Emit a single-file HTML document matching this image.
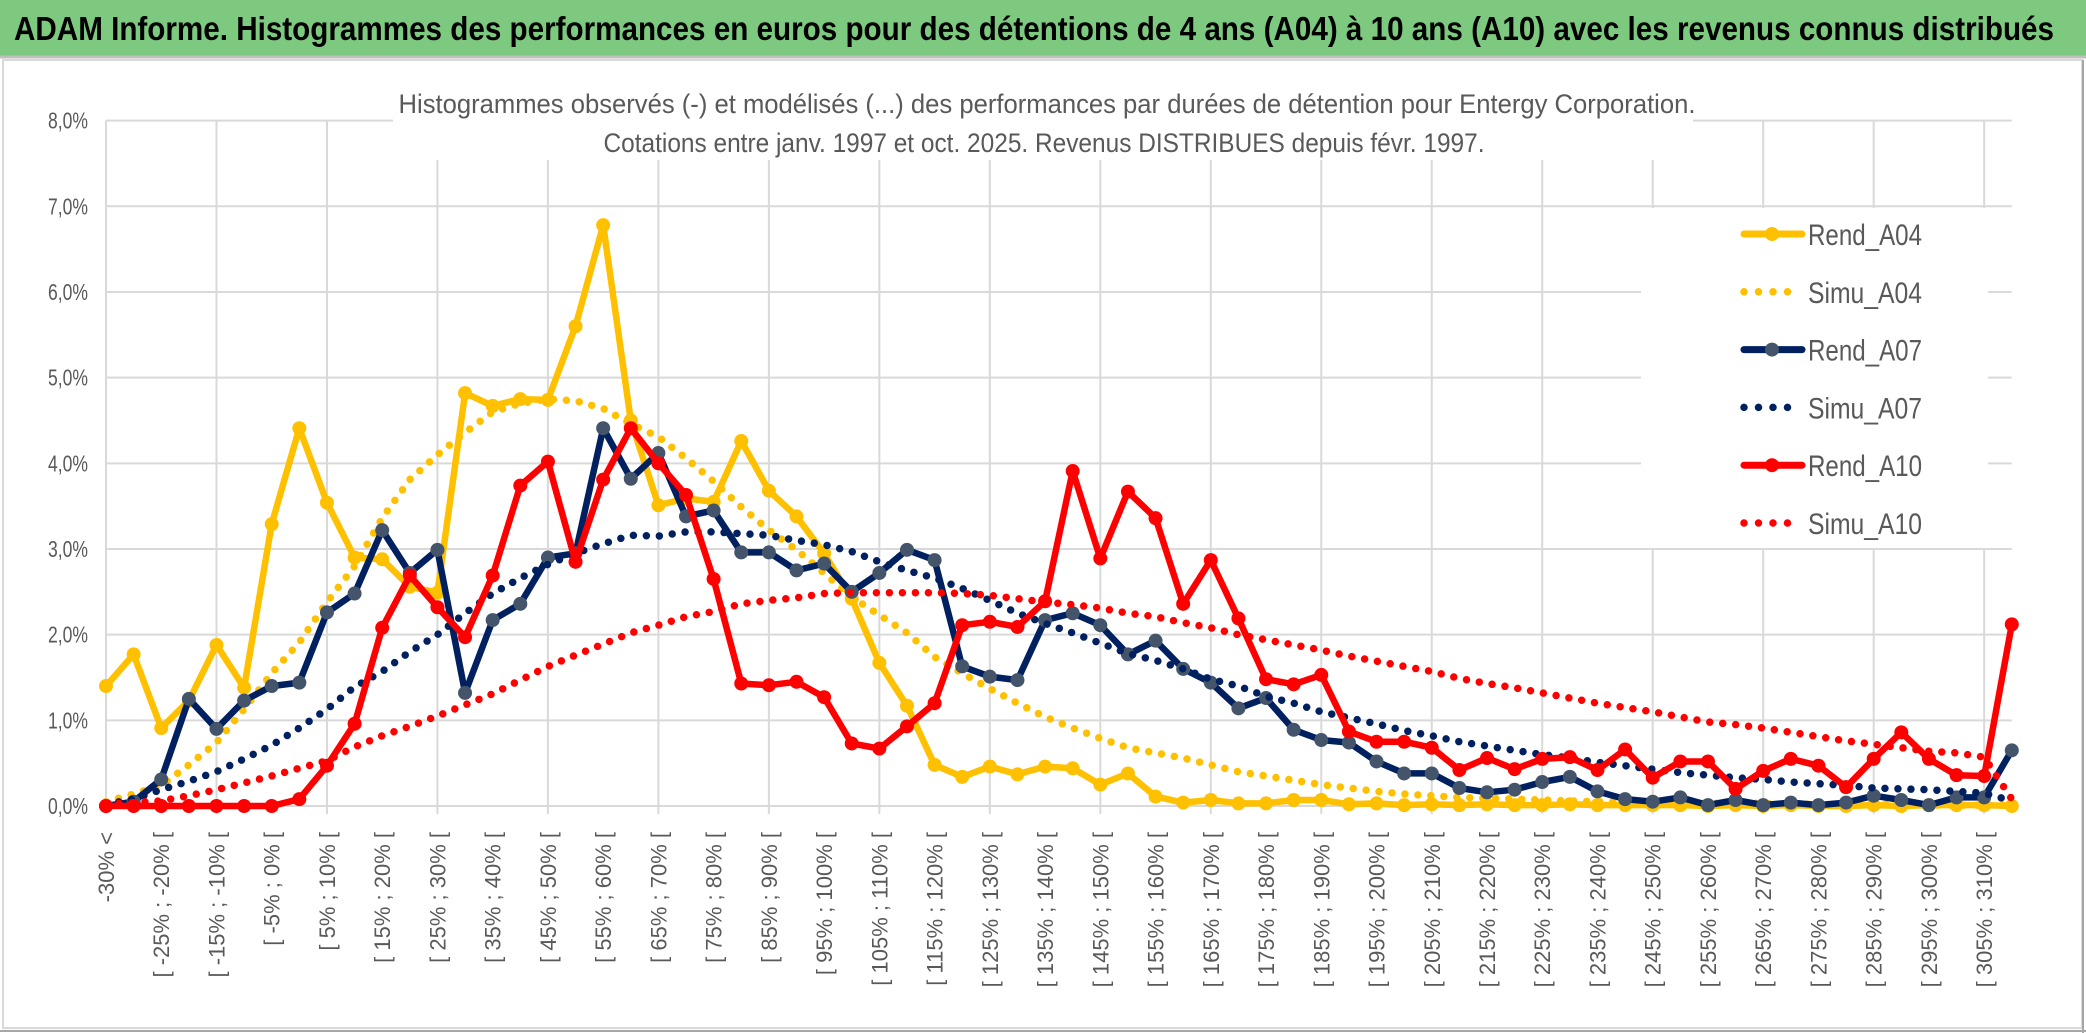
<!DOCTYPE html>
<html><head><meta charset="utf-8"><style>
html,body{margin:0;padding:0;background:#fff;}
svg{display:block;font-family:"Liberation Sans",sans-serif;}
</style></head><body>
<svg id="chart" width="2086" height="1033" viewBox="0 0 2086 1033" xmlns="http://www.w3.org/2000/svg">
<rect x="0" y="0" width="2086" height="1033" fill="#fff"/>
<rect x="0" y="0" width="2086" height="56" fill="#7dc97f"/>
<line x1="0" y1="57" x2="2086" y2="57" stroke="#bfbfbf" stroke-width="3"/>
<text x="14" y="40" font-size="33" font-weight="bold" fill="#000" textLength="2040" lengthAdjust="spacingAndGlyphs">ADAM Informe. Histogrammes des performances en euros pour des détentions de 4 ans (A04) à 10 ans (A10) avec les revenus connus distribués</text>
<rect x="3" y="60" width="2079" height="968" fill="none" stroke="#d9d9d9" stroke-width="2"/>
<line x1="0" y1="1031" x2="2086" y2="1031" stroke="#a6a6a6" stroke-width="2"/>
<line x1="2083" y1="60" x2="2083" y2="1033" stroke="#a6a6a6" stroke-width="2"/>
<g id="grid"></g>
<g id="yticks"></g>
<g id="xlabels"></g>
<rect x="393" y="110" width="1300" height="50" fill="#fff"/>
<text x="1047" y="113" font-size="27" fill="#595959" text-anchor="middle" textLength="1297" lengthAdjust="spacingAndGlyphs">Histogrammes observés (-) et modélisés (...) des performances par durées de détention pour Entergy Corporation.</text>
<text x="1044" y="152" font-size="27" fill="#595959" text-anchor="middle" textLength="881" lengthAdjust="spacingAndGlyphs">Cotations entre janv. 1997 et oct. 2025. Revenus DISTRIBUES depuis févr. 1997.</text>
<g id="series"></g>
<rect x="1641" y="208" width="347" height="340" fill="#fff"/>
<g id="legend"></g>
</svg>
<script>
const categories = [];
for (let k = 0; k < 70; k++) categories.push(k === 0 ? "-30% <" : "[ " + (-35 + 5 * k) + "% ; " + (-30 + 5 * k) + "% [");
const yTicks = [0, 1, 2, 3, 4, 5, 6, 7, 8];
const yTickLabels = ["0,0%", "1,0%", "2,0%", "3,0%", "4,0%", "5,0%", "6,0%", "7,0%", "8,0%"];
const seriesNames = ["Rend_A04", "Simu_A04", "Rend_A07", "Simu_A07", "Rend_A10", "Simu_A10"];
const rendA04 = [1.40,1.77,0.91,1.23,1.88,1.38,3.29,4.41,3.54,2.90,2.88,2.56,2.49,4.82,4.67,4.75,4.74,5.60,6.78,4.50,3.51,3.59,3.55,4.26,3.68,3.38,2.95,2.42,1.67,1.17,0.48,0.34,0.46,0.37,0.46,0.44,0.25,0.38,0.11,0.04,0.07,0.03,0.03,0.07,0.07,0.02,0.03,0.01,0.02,0.01,0.02,0.01,0.01,0.02,0.01,0.01,0.01,0.01,0.00,0.01,0.00,0.01,0.00,0.00,0.01,0.00,0.01,0.01,0.01,0.00];
const simuA04 = [0.05,0.14,0.24,0.48,0.74,1.13,1.55,1.91,2.38,2.80,3.36,3.81,4.10,4.36,4.60,4.70,4.75,4.73,4.64,4.46,4.31,4.06,3.79,3.49,3.22,2.99,2.72,2.44,2.23,2.02,1.74,1.55,1.37,1.20,1.04,0.91,0.79,0.68,0.62,0.56,0.48,0.40,0.35,0.30,0.25,0.21,0.17,0.14,0.12,0.10,0.09,0.08,0.07,0.06,0.05,0.05,0.04,0.04,0.03,0.03,0.03,0.02,0.02,0.02,0.02,0.02,0.01,0.01,0.01,0.01];
const rendA07 = [0.00,0.05,0.31,1.25,0.90,1.23,1.40,1.44,2.26,2.48,3.22,2.72,2.99,1.32,2.17,2.36,2.90,2.95,4.41,3.82,4.12,3.38,3.45,2.96,2.96,2.75,2.83,2.50,2.72,2.99,2.87,1.63,1.51,1.47,2.17,2.25,2.11,1.77,1.93,1.60,1.44,1.14,1.26,0.89,0.77,0.74,0.52,0.38,0.38,0.21,0.16,0.19,0.28,0.34,0.17,0.08,0.05,0.10,0.01,0.07,0.01,0.04,0.01,0.04,0.12,0.07,0.01,0.10,0.10,0.65];
const simuA07 = [0.02,0.08,0.19,0.29,0.40,0.55,0.71,0.91,1.13,1.39,1.57,1.80,2.00,2.25,2.48,2.66,2.82,2.95,3.06,3.16,3.15,3.20,3.20,3.18,3.16,3.10,3.05,2.97,2.85,2.75,2.66,2.54,2.40,2.25,2.13,2.02,1.90,1.78,1.70,1.60,1.48,1.40,1.28,1.20,1.10,1.03,0.96,0.88,0.82,0.75,0.70,0.65,0.60,0.56,0.51,0.47,0.43,0.39,0.36,0.33,0.31,0.28,0.26,0.24,0.21,0.20,0.19,0.17,0.15,0.06];
const rendA10 = [0,0,0,0,0,0,0,0.08,0.47,0.96,2.08,2.69,2.32,1.97,2.69,3.74,4.02,2.85,3.81,4.41,4.00,3.63,2.65,1.43,1.41,1.45,1.27,0.73,0.67,0.93,1.20,2.11,2.15,2.09,2.39,3.91,2.89,3.67,3.36,2.36,2.87,2.19,1.48,1.42,1.53,0.87,0.75,0.75,0.68,0.42,0.56,0.43,0.55,0.57,0.42,0.66,0.33,0.52,0.52,0.20,0.41,0.55,0.47,0.22,0.55,0.86,0.55,0.36,0.35,2.12];
const simuA10 = [0.02,0.04,0.06,0.12,0.19,0.27,0.35,0.44,0.53,0.69,0.82,0.93,1.05,1.18,1.31,1.47,1.63,1.76,1.89,2.02,2.11,2.21,2.27,2.36,2.40,2.43,2.48,2.49,2.49,2.49,2.49,2.48,2.46,2.42,2.38,2.35,2.31,2.25,2.21,2.14,2.08,2.00,1.94,1.88,1.82,1.75,1.69,1.63,1.57,1.49,1.43,1.38,1.32,1.26,1.20,1.15,1.10,1.04,0.98,0.95,0.91,0.86,0.81,0.76,0.72,0.68,0.64,0.62,0.57,0.08];

const NS = "http://www.w3.org/2000/svg";
const X0 = 106, DX = 27.62, Y0 = 806, DY = 85.67;
function xPos(i) { return X0 + i * DX; }
function yPos(v) { return Y0 - v * DY; }
function mk(tag, attrs, parent) {
  const e = document.createElementNS(NS, tag);
  for (const k in attrs) e.setAttribute(k, attrs[k]);
  parent.appendChild(e);
  return e;
}
const grid = document.getElementById("grid");
const yt = document.getElementById("yticks");
const xEnd = xPos(categories.length - 1);
yTicks.forEach((t, j) => {
  const l = mk("line", {x1: X0, x2: xEnd, y1: yPos(t), y2: yPos(t), stroke: "#d9d9d9", "stroke-width": 2}, grid);
  
  
  const tx = mk("text", {x: 88, y: yPos(t) + 8, "font-size": 23, fill: "#595959", "text-anchor": "end", textLength: 40, lengthAdjust: "spacingAndGlyphs"}, yt);
  tx.textContent = yTickLabels[j];
  
  
});
for (let i = 0; i < categories.length; i += 4) {
  const l = mk("line", {x1: xPos(i), x2: xPos(i), y1: yPos(8), y2: Y0 + 8, stroke: "#d9d9d9", "stroke-width": 2}, grid);
  
  
}
const xl = document.getElementById("xlabels");
for (let i = 0; i < categories.length - 1; i += 2) {
  const x = xPos(i) + 8, y = 832;
  const tx = mk("text", {x: x, y: y, "font-size": 22, fill: "#595959", "text-anchor": "end", transform: "rotate(-90 " + x + " " + y + ")"}, xl);
  tx.textContent = categories[i];
  
  
}
const sg = document.getElementById("series");
const defs = [
  {name: seriesNames[0], data: rendA04, color: "#FFC000", marker: "#FFC000", dotted: false},
  {name: seriesNames[1], data: simuA04, color: "#FFC000", dotted: true},
  {name: seriesNames[2], data: rendA07, color: "#002060", marker: "#44546A", dotted: false},
  {name: seriesNames[3], data: simuA07, color: "#002060", dotted: true},
  {name: seriesNames[4], data: rendA10, color: "#FF0000", marker: "#FF0000", dotted: false},
  {name: seriesNames[5], data: simuA10, color: "#FF0000", dotted: true}
];
defs.forEach(s => {
  const g = mk("g", {}, sg);
  
  
  const pts = s.data.map((v, i) => xPos(i).toFixed(1) + "," + yPos(v).toFixed(1)).join(" ");
  const attrs = {points: pts, fill: "none", stroke: s.color, "stroke-linejoin": "round"};
  if (s.dotted) { attrs["stroke-width"] = 7.5; attrs["stroke-dasharray"] = "0 13"; attrs["stroke-linecap"] = "round"; }
  else { attrs["stroke-width"] = 6.5; attrs["stroke-linecap"] = "round"; }
  const pl = mk("polyline", attrs, g);
  
  
  if (!s.dotted) {
    s.data.forEach((v, i) => {
      const c = mk("circle", {cx: xPos(i), cy: yPos(v), r: 7, fill: s.marker}, g);
      
      
    });
  }
});
const lg = document.getElementById("legend");
defs.forEach((s, k) => {
  const y = 234 + k * 57.8;
  const g = mk("g", {}, lg);
  
  
  if (s.dotted) {
    mk("line", {x1: 1744, x2: 1801, y1: y, y2: y, stroke: s.color, "stroke-width": 7.5, "stroke-dasharray": "0 14.5", "stroke-linecap": "round"}, g);
  } else {
    mk("line", {x1: 1744, x2: 1802, y1: y, y2: y, stroke: s.color, "stroke-width": 7, "stroke-linecap": "round"}, g);
    mk("circle", {cx: 1772, cy: y, r: 7, fill: s.marker}, g);
  }
  const t = mk("text", {x: 1808, y: y + 11, "font-size": 30, fill: "#595959", textLength: 114, lengthAdjust: "spacingAndGlyphs"}, g);
  t.textContent = s.name;
});
</script>
</body></html>
